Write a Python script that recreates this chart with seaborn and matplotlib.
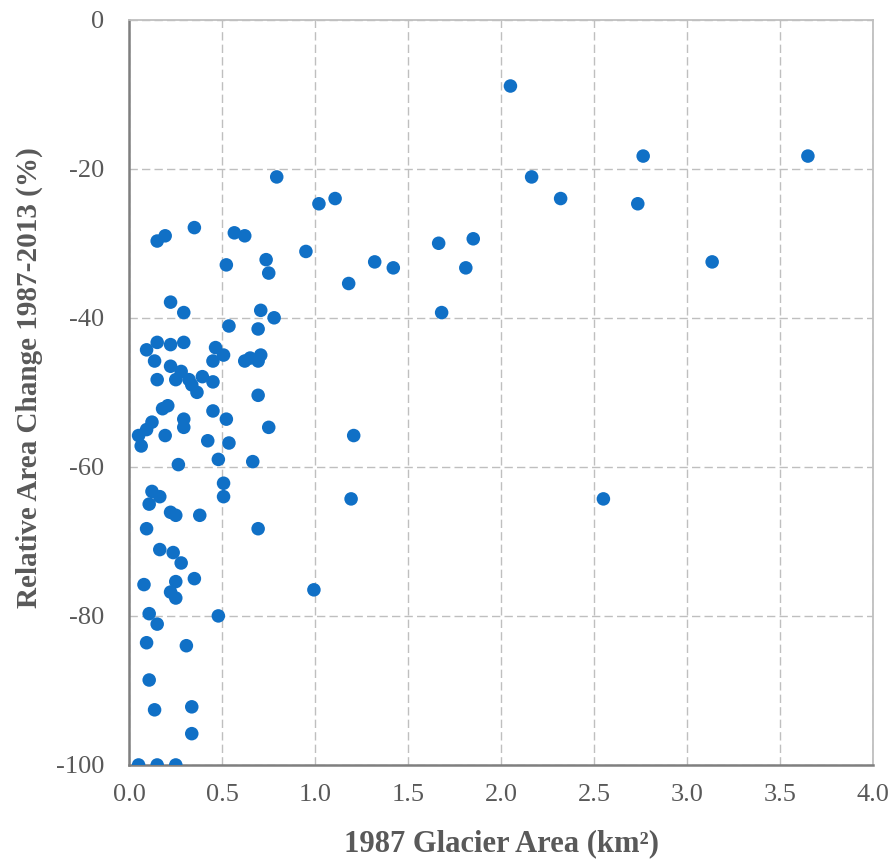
import matplotlib
matplotlib.use("Agg")
import matplotlib.pyplot as plt
import seaborn as sns
import pandas as pd

# 1987 glacier area (km²)
area_1987 = [
    2.05, 2.164, 2.32, 1.02, 1.107, 0.95, 1.32, 1.42, 1.18, 1.664, 1.85, 1.81, 1.68,
    2.764, 3.65, 2.735, 3.135,
    1.207, 1.193, 0.993, 2.55,
    0.793, 0.15, 0.193, 0.35, 0.565, 0.621, 0.736, 0.522,
    0.75, 0.222, 0.293, 0.707, 0.779, 0.536, 0.693, 0.15, 0.222, 0.293, 0.093,
    0.464, 0.507, 0.45, 0.136, 0.621, 0.65, 0.707, 0.693, 0.222, 0.279, 0.15,
    0.25, 0.321, 0.336, 0.393, 0.45, 0.364, 0.693, 0.207, 0.179, 0.45, 0.522,
    0.293, 0.122, 0.293, 0.093, 0.75, 0.05, 0.193, 0.064, 0.422, 0.536, 0.479,
    0.664, 0.264, 0.507, 0.507, 0.122, 0.164, 0.107,
    0.222, 0.25, 0.379, 0.093, 0.693, 0.164, 0.236, 0.279, 0.079, 0.25, 0.35,
    0.222, 0.25, 0.107, 0.479, 0.15, 0.093, 0.307, 0.107, 0.136, 0.336, 0.336,
    0.05, 0.15, 0.25,
]

# Relative area change 1987-2013 (%)
rel_change = [
    -8.9, -21.1, -24.0, -24.7, -24.0, -31.1, -32.5, -33.3, -35.4, -30.0, -29.4, -33.3, -39.3,
    -18.3, -18.3, -24.7, -32.5,
    -55.8, -64.3, -76.5, -64.3,
    -21.1, -29.7, -29.0, -27.9, -28.6, -29.0, -32.2, -32.9,
    -34.0, -37.9, -39.3, -39.0, -40.0, -41.1, -41.5, -43.3, -43.6, -43.3, -44.3,
    -44.0, -45.0, -45.8, -45.8, -45.8, -45.4, -45.0, -45.8, -46.5, -47.2, -48.3,
    -48.3, -48.3, -49.0, -47.9, -48.6, -50.0, -50.4, -51.8, -52.2, -52.5, -53.6,
    -53.6, -54.0, -54.7, -55.0, -54.7, -55.8, -55.8, -57.2, -56.5, -56.8, -59.0,
    -59.3, -59.7, -62.2, -64.0, -63.3, -64.0, -65.0,
    -66.1, -66.5, -66.5, -68.3, -68.3, -71.1, -71.5, -72.9, -75.8, -75.4, -75.0,
    -76.8, -77.6, -79.7, -80.0, -81.1, -83.6, -84.0, -88.6, -92.6, -92.2, -95.8,
    -100.0, -100.0, -100.0,
]

x_ticks = [0.0, 0.5, 1.0, 1.5, 2.0, 2.5, 3.0, 3.5, 4.0]
y_ticks = [0, -20, -40, -60, -80, -100]

df = pd.DataFrame({"area": area_1987, "change": rel_change})

sns.set_style("white")
plt.rcParams["font.family"] = ["Liberation Serif", "DejaVu Serif"]

fig = plt.figure(figsize=(8.96, 8.63), dpi=100)
ax = fig.add_axes([0.1443, 0.1136, 0.8300, 0.8636])

sns.scatterplot(data=df, x="area", y="change", ax=ax, color="#1070C6",
                s=95, edgecolor="none", linewidth=0, zorder=3)

ax.set_xlim(0, 4.0)
ax.set_ylim(-100, 0)
ax.set_xticks(x_ticks)
ax.set_xticklabels([f"{t:.1f}" for t in x_ticks])
ax.set_yticks(y_ticks)
ax.set_yticklabels([str(t) for t in y_ticks])

ax.grid(True, color="#BFBFBF", linestyle=(0, (6, 3)), linewidth=1.0, zorder=0)
ax.set_axisbelow(True)

for side in ["top", "right"]:
    ax.spines[side].set_color("#BFBFBF")
    ax.spines[side].set_linewidth(1.3)
for side in ["left", "bottom"]:
    ax.spines[side].set_color("#7F7F7F")
    ax.spines[side].set_linewidth(1.8)

ax.tick_params(axis="both", which="major", direction="out", length=6, width=1.5,
               color="#7F7F7F", labelcolor="#595959", labelsize=19)
ax.tick_params(axis="y", pad=12)
ax.tick_params(axis="x", pad=8)

ax.set_xlabel("1987 Glacier Area (km²)", fontsize=22, fontweight="bold",
              color="#595959")
ax.set_ylabel("Relative Area Change 1987-2013 (%)", fontsize=21, fontweight="bold",
              color="#595959")
ax.xaxis.set_label_coords(0.5, -0.086)
ax.yaxis.set_label_coords(-0.116, 0.52)

fig.savefig("out.png", dpi=100)
